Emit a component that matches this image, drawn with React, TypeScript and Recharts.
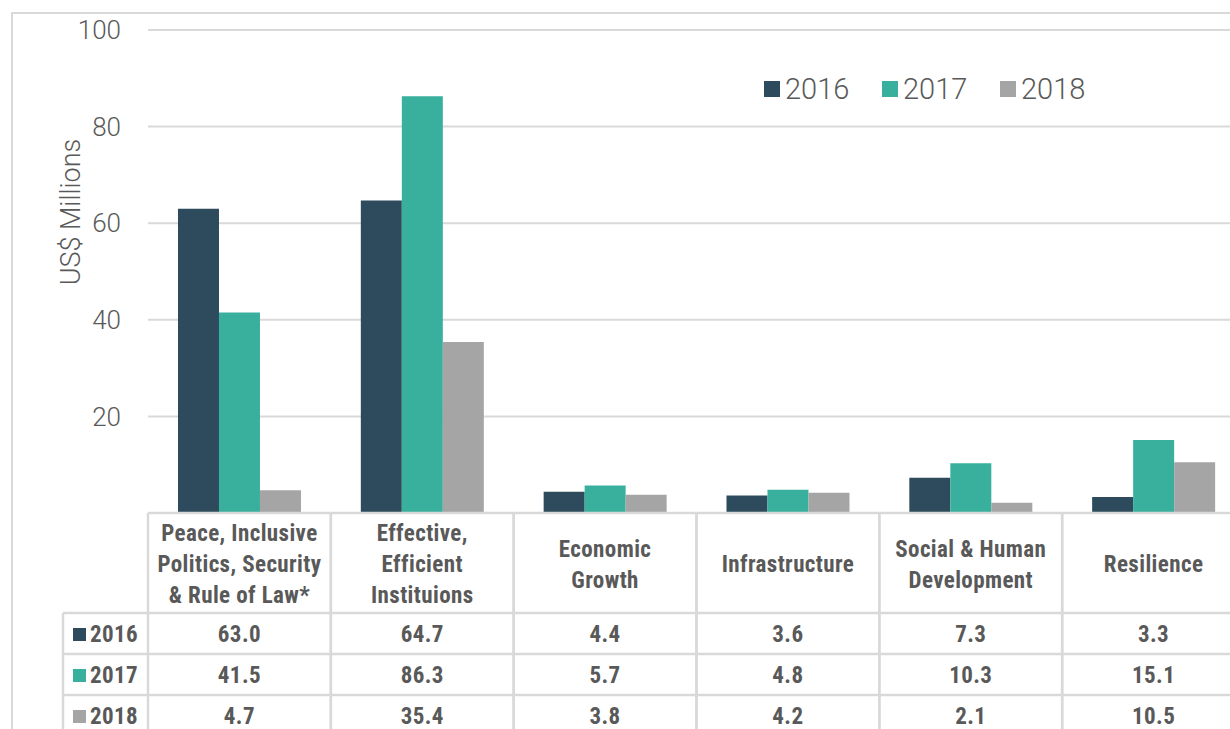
import { BarChart, Bar, XAxis, YAxis, CartesianGrid, Legend, Label } from 'recharts'

const categories = [
  'Peace, Inclusive Politics, Security & Rule of Law*',
  'Effective, Efficient Instituions',
  'Economic Growth',
  'Infrastructure',
  'Social & Human Development',
  'Resilience',
]

const headerLines = [
  ['Peace, Inclusive', 'Politics, Security', '& Rule of Law*'],
  ['Effective,', 'Efficient', 'Instituions'],
  ['Economic', 'Growth'],
  ['Infrastructure'],
  ['Social & Human', 'Development'],
  ['Resilience'],
]

const years = ['2016', '2017', '2018']
const values2016 = [63.0, 64.7, 4.4, 3.6, 7.3, 3.3]
const values2017 = [41.5, 86.3, 5.7, 4.8, 10.3, 15.1]
const values2018 = [4.7, 35.4, 3.8, 4.2, 2.1, 10.5]
const yTicks = [0, 20, 40, 60, 80, 100]

const COLORS = ['#2d4b5c', '#38b09d', '#a5a5a5']
const seriesValues = [values2016, values2017, values2018]

const data = categories.map((name, i) => ({
  name,
  y2016: values2016[i],
  y2017: values2017[i],
  y2018: values2018[i],
}))

const W = 1245
const H = 729
const PLOT_LEFT = 148
const PLOT_TOP = 30
const PLOT_BOTTOM = 513
const BAND = (W - PLOT_LEFT) / categories.length
const ROW_TOPS = [613, 654, 695]
const LINE = '#d9d9d9'
const TEXT = '#595959'
const LIGHT_FONT = 'Roboto, "Liberation Sans", sans-serif'
const BOLD_FONT = '"Liberation Sans Narrow", "Roboto Condensed", "DejaVu Sans Condensed", sans-serif'

// table text style, shared by header, values and row labels
const cellText = {
  fontFamily: BOLD_FONT,
  fontWeight: 700,
  fontSize: 23,
  letterSpacing: 0.4,
  fill: TEXT,
}

function ColumnTick(props: any) {
  const { x, index } = props
  const left = x - BAND / 2
  const right = x + BAND / 2
  const lines = headerLines[index] || []
  const n = lines.length
  return (
    <g>
      <line x1={left} y1={PLOT_BOTTOM} x2={left} y2={H} stroke={LINE} strokeWidth={2.5} />
      <line x1={right} y1={PLOT_BOTTOM} x2={right} y2={H} stroke={LINE} strokeWidth={2.5} />
      {ROW_TOPS.map((t) => (
        <line key={t} x1={left} y1={t} x2={right} y2={t} stroke={LINE} strokeWidth={2.5} />
      ))}
      {lines.map((l, i) => (
        <text key={i} x={x} y={572 + (i - (n - 1) / 2) * 31} textAnchor="middle" {...cellText}>
          {l}
        </text>
      ))}
      {seriesValues.map((vals, r) => (
        <text key={r} x={x} y={ROW_TOPS[r] + 29} textAnchor="middle" {...cellText}>
          {vals[index].toFixed(1)}
        </text>
      ))}
      {index === 0 && (
        <g>
          <line x1={63} y1={ROW_TOPS[0]} x2={63} y2={H} stroke={LINE} strokeWidth={2.5} />
          {ROW_TOPS.map((t, r) => (
            <g key={t}>
              <line x1={63} y1={t} x2={left} y2={t} stroke={LINE} strokeWidth={2.5} />
              <rect x={73} y={t + 15} width={13} height={13} fill={COLORS[r]} />
              <text x={90} y={t + 29} {...cellText}>
                {years[r]}
              </text>
            </g>
          ))}
        </g>
      )}
    </g>
  )
}

function LegendContent(props: any) {
  const items = props.payload || []
  return (
    <div style={{ display: 'flex' }}>
      {items.map((it: any) => (
        <div key={it.value} style={{ width: 118, display: 'flex', alignItems: 'center' }}>
          <span style={{ width: 16, height: 16, background: it.color, marginRight: 5 }} />
          <span style={{ fontFamily: LIGHT_FONT, fontWeight: 300, fontSize: 29, color: TEXT }}>
            {it.value}
          </span>
        </div>
      ))}
    </div>
  )
}

function YLabel() {
  return (
    <text
      x={80}
      y={212}
      transform="rotate(-90, 80, 212)"
      textAnchor="middle"
      fontFamily={LIGHT_FONT}
      fontWeight={300}
      fontSize={27}
      fill={TEXT}
    >
      US$ Millions
    </text>
  )
}

export default function App() {
  return (
    <div
      style={{
        position: 'absolute',
        left: 0,
        top: 0,
        width: 1230,
        height: 729,
        overflow: 'hidden',
        background: '#fff',
      }}
    >
      <div
        style={{
          position: 'absolute',
          left: 11,
          top: 12,
          width: 1300,
          height: 800,
          border: `2px solid ${LINE}`,
          boxSizing: 'border-box',
        }}
      />
      <div style={{ position: 'absolute', left: 0, top: 0 }}>
        <BarChart
          width={W}
          height={H}
          data={data}
          margin={{ top: PLOT_TOP, right: 0, bottom: 0, left: 0 }}
          barCategoryGap="16.4%"
          barGap={0}
        >
          <CartesianGrid vertical={false} stroke={LINE} strokeWidth={2} />
          <XAxis
            dataKey="name"
            height={H - PLOT_BOTTOM}
            interval={0}
            tickLine={false}
            axisLine={{ stroke: LINE, strokeWidth: 2.5 }}
            tick={(p: any) => <ColumnTick {...p} />}
          />
          <YAxis
            width={PLOT_LEFT}
            domain={[0, 100]}
            ticks={yTicks}
            axisLine={false}
            tickLine={false}
            tickMargin={21}
            tickFormatter={(v: number) => (v === 0 ? '' : String(v))}
            tick={{ fontFamily: LIGHT_FONT, fontWeight: 300, fontSize: 26, fill: TEXT }}
          >
            <Label content={<YLabel />} />
          </YAxis>
          <Legend
            layout="horizontal"
            verticalAlign="middle"
            align="center"
            wrapperStyle={{ top: 72, left: 764, width: 380 }}
            content={<LegendContent />}
          />
          {years.map((y, i) => (
            <Bar key={y} dataKey={`y${y}`} name={y} fill={COLORS[i]} isAnimationActive={false} />
          ))}
        </BarChart>
      </div>
    </div>
  )
}
